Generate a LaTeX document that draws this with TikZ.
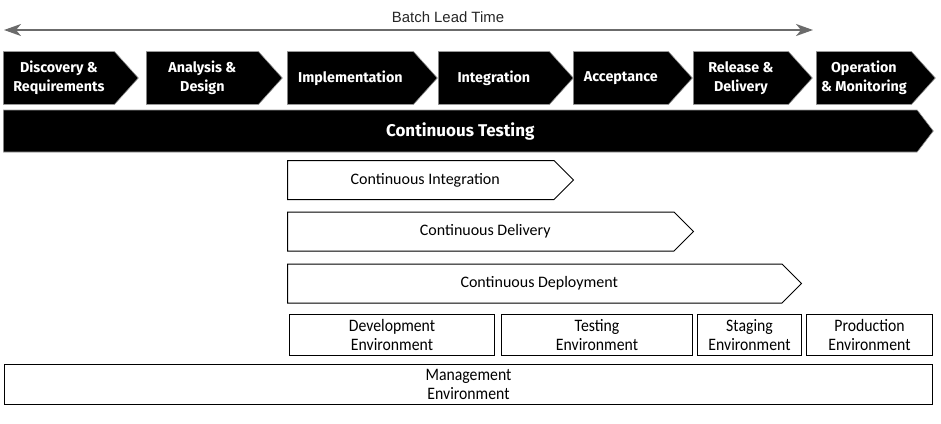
\documentclass[tikz,border=0pt]{standalone}
\usepackage{fontspec}
\setmainfont{Carlito}
\newfontfamily\phasefont{Fira Sans}
\newfontfamily\envfont[FakeStretch=0.9]{Carlito}
\newfontfamily\leadfont{Liberation Sans}
\usetikzlibrary{shapes.symbols,arrows.meta}

\begin{document}
\begin{tikzpicture}[x=1pt,y=-1pt,
        phase/.style={signal,signal to=east,signal pointer angle=96,fill=black,draw=black!40,line width=0.6pt,
            text=white,anchor=west,minimum height=53pt,align=center,inner sep=0pt,
            font=\phasefont\bfseries\fontsize{14.3}{19.5}\selectfont},
        practice/.style={signal,signal to=east,signal pointer angle=90,draw=black,line width=1pt,fill=white,
            anchor=west,minimum height=39pt,inner sep=0pt,font=\fontsize{16}{18}\selectfont,
            execute at begin node={\hspace*{9pt}}},
        env/.style={draw,line width=1pt,anchor=north west,minimum height=41pt,align=center,inner sep=0pt,
            font=\envfont\fontsize{17.5}{19}\selectfont},
        lead/.style={{Stealth[length=17pt,width=12pt,inset=5pt]}-{Stealth[length=17pt,width=12pt,inset=5pt]},
            line width=2pt,draw=black!58}]

    \useasboundingbox (0,0) rectangle (941,423);

    % lead time
    \coordinate (leadstart) at (4,30);
    \coordinate (leadend) at (813,30);
    \draw[lead] (leadstart) -- (leadend);
    \node[font=\leadfont\fontsize{14.9}{17}\selectfont,text=black!85] (leadtime) at (448,17) {Batch Lead Time};

    \node[phase,minimum width=135pt] (discovery) at (3,78) {Discovery \&\\Requirements};
    \node[phase,minimum width=136pt] (analysis) at (146,78) {Analysis \&\\Design};
    \node[phase,minimum width=150pt] (implementation) at (287,78) {Implementation};
    \node[phase,minimum width=135pt] (integration) at (438,78) {Integration};
    \node[phase,minimum width=119pt] (acceptance) at (573,78) {Acceptance};
    \node[phase,minimum width=119pt] (release) at (693,78) {Release \&\\Delivery};
    \node[phase,minimum width=119pt] (operation) at (816,78) {Operation\\\& Monitoring};

    \node[phase,minimum width=930pt,minimum height=42pt,signal pointer angle=105,
        font=\phasefont\bfseries\fontsize{17}{19}\selectfont] (testing) at (3,131) {Continuous Testing};

    \node[practice,minimum width=286pt] (ci) at (287,180) {Continuous Integration};
    \node[practice,minimum width=406pt] (cdelivery) at (287,231.5) {Continuous Delivery};
    \node[practice,minimum width=514pt] (cdeployment) at (287,283.5) {Continuous Deployment};

    \node[env,minimum width=205pt] (devenv) at (289,314) {Development\\Environment};
    \node[env,minimum width=191pt] (testenv) at (501,314) {Testing\\Environment};
    \node[env,minimum width=104pt] (stageenv) at (697,314) {Staging\\Environment};
    \node[env,minimum width=126pt] (prodenv) at (806,314) {Production\\Environment};
    \node[env,minimum width=928pt,minimum height=40pt] (mgmtenv) at (4,364) {Management\\Environment};
\end{tikzpicture}
\end{document}
